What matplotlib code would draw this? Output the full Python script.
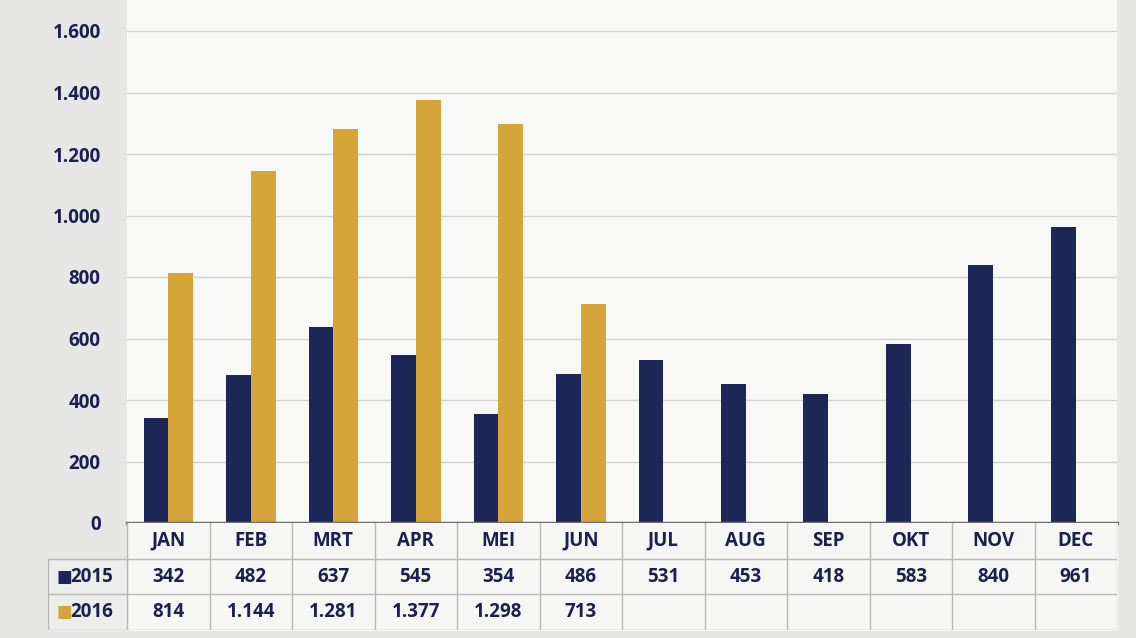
import matplotlib.pyplot as plt
import numpy as np

# data
maanden = ['JAN', 'FEB', 'MRT', 'APR', 'MEI', 'JUN', 'JUL', 'AUG', 'SEP', 'OKT', 'NOV', 'DEC']
jaren = ['2015', '2016']
waarden_2015 = [342, 482, 637, 545, 354, 486, 531, 453, 418, 583, 840, 961]
waarden_2016 = [814, 1144, 1281, 1377, 1298, 713]
y_ticks = [0, 200, 400, 600, 800, 1000, 1200, 1400, 1600]

navy = '#1c2657'
goud = '#d6a53a'
tekst = '#1a2050'
fs = 13.5

def nl(v):
    # thousands separator with a dot
    return f'{v:,}'.replace(',', '.')

plt.rcParams['font.family'] = ['Open Sans', 'DejaVu Sans']
W, H = 1136, 638
fig = plt.figure(figsize=(W / 100, H / 100), dpi=100, facecolor='#e6e6e4')

# plot area (top reaches the image edge, 1600 line at y=31 px)
x0, x1, y0, y1 = 127, 1117, 523, 31
ytop = 1600 + 1600 * y1 / (y0 - y1)
ax = fig.add_axes([x0 / W, (H - y0) / H, (x1 - x0) / W, y0 / H])
ax.set_facecolor('#f8f8f6')
x = np.arange(len(maanden))
ax.bar(x - 0.15, waarden_2015, width=0.3, color=navy, zorder=3)
ax.bar(x[:len(waarden_2016)] + 0.15, waarden_2016, width=0.3, color=goud, zorder=3)
ax.set_xlim(-0.5, len(maanden) - 0.5)
ax.set_ylim(0, ytop)
ax.set_yticks(y_ticks)
ax.set_yticklabels([nl(v) for v in y_ticks], fontsize=fs, fontweight='bold', color=tekst)
ax.set_xticks([])
ax.tick_params(axis='y', length=0, pad=19)
ax.grid(axis='y', color='#d2d2cf', linewidth=1, zorder=0)
for s in ['top', 'right', 'left']:
    ax.spines[s].set_visible(False)
ax.spines['bottom'].set_color('#6e6e6e')
ax.spines['bottom'].set_linewidth(2.5)
ax.spines['bottom'].set_zorder(4)

# data table underneath
t0, t1 = 48, 630
kolom = (x1 - x0) / len(maanden)
links = -0.5 - (x0 - t0) / kolom
tab = fig.add_axes([t0 / W, (H - t1) / H, (x1 - t0) / W, (t1 - y0) / H])
tab.set_xlim(links, len(maanden) - 0.5)
tab.set_ylim(3, 0)
tab.patch.set_alpha(0)
tab.axis('off')
tab.fill_between([-0.5, len(maanden) - 0.5], 0, 3, color='#f6f6f4', zorder=0)
tab.fill_between([links, -0.5], 1, 3, color='#ececea', zorder=0)
lc = '#b8b8b4'
for r in [1, 2, 3]:
    tab.plot([links, len(maanden) - 0.5], [r, r], color=lc, lw=1)
for c in np.arange(-0.5, len(maanden), 1.0):
    tab.plot([c, c], [0, 3], color=lc, lw=1)
tab.plot([links, links], [1, 3], color=lc, lw=1)

for i, m in enumerate(maanden):
    tab.text(i, 0.5, m, ha='center', va='center', fontsize=fs, fontweight='bold', color=tekst)
for i, v in enumerate(waarden_2015):
    tab.text(i, 1.5, nl(v), ha='center', va='center', fontsize=fs, fontweight='bold', color=tekst)
for i, v in enumerate(waarden_2016):
    tab.text(i, 2.5, nl(v), ha='center', va='center', fontsize=fs, fontweight='bold', color=tekst)
for r, (jaar, kleur) in enumerate(zip(jaren, [navy, goud])):
    tab.text(links + 0.1, 1.5 + r, '\u25A0', ha='left', va='center', fontsize=12, color=kleur,
             family='DejaVu Sans')
    tab.text(links + 0.27, 1.5 + r, jaar, ha='left', va='center', fontsize=fs, fontweight='bold', color=tekst)

fig.savefig('out.png', dpi=100, facecolor=fig.get_facecolor())
